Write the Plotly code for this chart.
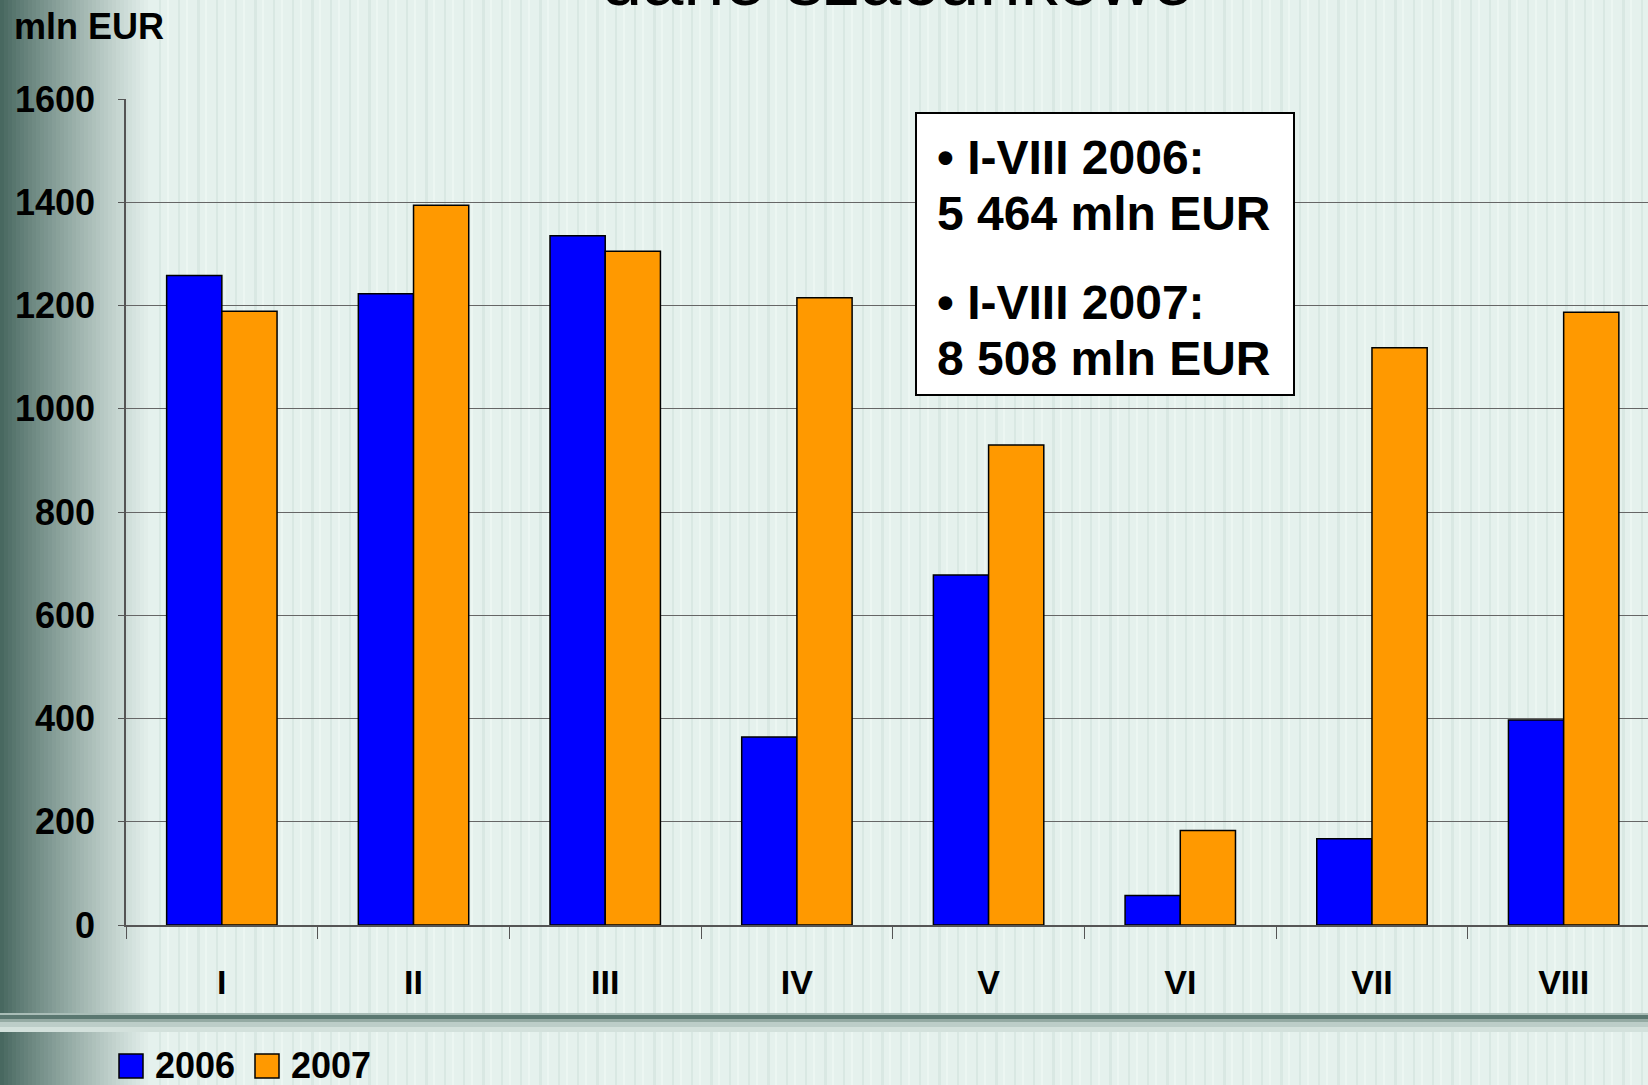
import plotly.graph_objects as go

# data
months = ["I", "II", "III", "IV", "V", "VI", "VII", "VIII"]
values_2006 = [1258, 1223, 1335, 364, 678, 57, 167, 397]
values_2007 = [1189, 1394, 1305, 1215, 930, 183, 1118, 1187]
y_ticks = [0, 200, 400, 600, 800, 1000, 1200, 1400, 1600]
series_names = ["2006", "2007"]
summary_lines = ["• I-VIII 2006:", "5 464 mln EUR", "• I-VIII 2007:", "8 508 mln EUR"]
title_text = "dane szacunkowe"
unit_text = "mln EUR"

BLUE = "#0000ff"
ORANGE = "#ff9900"
BG = "#e5f1ed"
FONT = "Liberation Sans, Arial, sans-serif"

W, H = 1648, 1085
L, T, B = 126, 99, 925  # plot area in pixels


def px(x):
    return (x - L) / (W - L)


def py(y):
    return (B - y) / (B - T)


def rect(x0, y0, x1, y1, fill, line_w=0, line_c=None, layer="below"):
    return dict(type="rect", xref="paper", yref="paper",
                x0=px(x0), x1=px(x1), y0=py(y1), y1=py(y0),
                fillcolor=fill, layer=layer,
                line=dict(width=line_w, color=line_c or fill))


shapes = []

# faint vertical stripes of the slide background
for i, x in enumerate(range(140, W, 19)):
    w = 2 if i % 3 else 3
    shapes.append(rect(x, 0, x + w, H, "#d9e8e3"))
    shapes.append(rect(x + 8, 0, x + 10, H, "#ecf6f2"))

# dark gradient at the left edge
dark = (72, 104, 96)
light = (229, 241, 237)
steps = 38
for i in range(steps):
    t = i / (steps - 1)
    c = tuple(int(d + (l - d) * t ** 0.9) for d, l in zip(dark, light))
    shapes.append(rect(i * 4, 0, i * 4 + 4.5, H, "rgb(%d,%d,%d)" % c))

# horizontal band under the axis labels
for y0, y1, c in [(1013, 1015, "#a9bdb7"), (1015, 1019, "#5a7770"),
                  (1019, 1022, "#94aaa3"), (1022, 1027, "#bccdc8"),
                  (1027, 1032, "#d3e1dc")]:
    shapes.append(rect(0, y0, W, y1, c))

# summary box
shapes.append(rect(916, 113, 1294, 395, "white", 2, "black", layer="above"))

# legend squares
shapes.append(rect(119, 1054, 143, 1078, BLUE, 1.5, "black", layer="above"))
shapes.append(rect(255, 1054, 279, 1078, ORANGE, 1.5, "black", layer="above"))

annotations = []
for text, yc in zip(summary_lines, [158, 213, 302, 358]):
    annotations.append(dict(xref="paper", yref="paper", x=px(935), y=py(yc),
                            xanchor="left", yanchor="middle", showarrow=False,
                            text=text, font=dict(family=FONT, size=48, color="black", weight="bold")))

annotations.append(dict(xref="paper", yref="paper", x=px(897), y=py(23),
                        xanchor="center", yanchor="bottom", showarrow=False,
                        text=title_text, font=dict(family=FONT, size=74, color="black")))
annotations.append(dict(xref="paper", yref="paper", x=px(12), y=py(26),
                        xanchor="left", yanchor="middle", showarrow=False,
                        text=unit_text, font=dict(family=FONT, size=36, color="black", weight="bold")))
for name, xl in zip(series_names, [153, 289]):
    annotations.append(dict(xref="paper", yref="paper", x=px(xl), y=py(1065),
                            xanchor="left", yanchor="middle", showarrow=False,
                            text=name, font=dict(family=FONT, size=36, color="black", weight="bold")))

fig = go.Figure()
for name, vals, col in [(series_names[0], values_2006, BLUE), (series_names[1], values_2007, ORANGE)]:
    fig.add_trace(go.Bar(x=months, y=vals, name=name,
                         marker=dict(color=col, line=dict(color="black", width=1.5))))

fig.update_layout(
    width=W, height=H,
    margin=dict(l=L, r=0, t=T, b=H - B),
    paper_bgcolor=BG, plot_bgcolor="rgba(0,0,0,0)",
    barmode="group", bargap=0.424, bargroupgap=0,
    showlegend=False,
    shapes=shapes, annotations=annotations,
    font=dict(family=FONT, color="black"),
)
fig.update_xaxes(range=[-0.5, 7.44], showline=True, linecolor="#555", linewidth=1.5,
                 ticks="outside", tickson="boundaries", ticklen=12, tickcolor="#555",
                 tickfont=dict(size=34, weight="bold"), ticklabelstandoff=26,
                 showgrid=False)
fig.update_yaxes(range=[0, 1600], tickvals=y_ticks, showline=True, linecolor="#555",
                 linewidth=1.5, ticks="outside", ticklen=6, tickcolor="#555",
                 tickfont=dict(size=36, weight="bold"), ticklabelstandoff=16,
                 showgrid=True, gridcolor="#666", gridwidth=1, zeroline=False)

fig.write_html("out.html", config={"displayModeBar": False},
               post_script="document.body.style.margin='0';")
